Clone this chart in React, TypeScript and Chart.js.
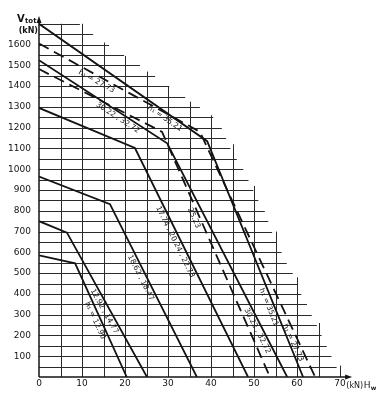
import React, { useEffect, useRef } from "react";
import { Chart, registerables } from "chart.js";

Chart.register(...registerables);

// ---- Series (H_w in kN, V_tot in kN) ----
const h1290_H = [0, 8.4, 20.4];
const h1290_V = [585, 547, 0];
const h1292_H = [0, 6.5, 25.1];
const h1292_V = [750, 695, 0];
const h1862_H = [0, 16.5, 36.7];
const h1862_V = [965, 832, 0];
const h1774_H = [0, 22.3, 48.6];
const h1774_V = [1295, 1102, 0];
const h2523_H = [0, 28.6, 53.7];
const h2523_V = [1482, 1180, 0];
const h3022_H = [0, 29.8, 57.7];
const h3022_V = [1525, 1125, 0];
const h3521_H = [0, 39.1, 61.4];
const h3521_V = [1700, 1135, 0];
const h2773_H = [0, 37.4, 64.2];
const h2773_V = [1605, 1180, 0];

const SERIES_H = [h1290_H, h1292_H, h1862_H, h1774_H, h2523_H, h3022_H, h3521_H, h2773_H];
const SERIES_V = [h1290_V, h1292_V, h1862_V, h1774_V, h2523_V, h3022_V, h3521_V, h2773_V];
const SERIES_NAMES = ["h1 = 12.90", "12.92, 14.77", "18.62, 18.47", "17.74, 20.24, 22.73", "25.23", "30.22, 32.72", "h1 = 35.21", "h1 = 27.73"];
const SERIES_DASHED = [false, false, false, false, true, false, false, true];

// ---- Tick labels ----
const X_TICKS = [0, 10, 20, 30, 40, 50, 60, 70];
const Y_TICKS = [100, 200, 300, 400, 500, 600, 700, 800, 900, 1000, 1100, 1200, 1300, 1400, 1500, 1600];

// ---- Staircase grid extents ----
const ROW_LEVELS = [1700, 1650, 1600, 1550, 1500, 1450, 1400, 1350, 1300, 1250, 1200, 1150, 1100, 1050, 1000, 950, 900, 850, 800, 750, 700, 650, 600, 550, 500, 450, 400, 350, 300, 250, 200, 150, 100, 50];
const ROW_ENDS = [9.5, 12.6, 16.3, 19.8, 23.5, 27, 30.3, 34, 37.4, 40.5, 42.5, 43.5, 44.5, 46, 47.5, 48.7, 49.8, 51, 52.5, 53.3, 54.2, 55.3, 56.4, 57.6, 59, 60, 61, 62.3, 63.4, 64.6, 65.7, 66.9, 68, 69.2];
const COL_LEVELS = [5, 10, 15, 20, 25, 30, 35, 40, 45, 50, 55, 60, 65, 70];
const COL_TOPS = [1700, 1700, 1610, 1545, 1470, 1400, 1325, 1260, 1120, 920, 700, 480, 260, 55];

// ---- Curve annotations: text, series index, H position along the curve ----
const LABEL_TEXT = ["h\u2081 = 27.73", "h\u2081 = 35.21", "30.22 , 32.72", "17.74 , 20.24 , 22.73", "25.23", "18.62 , 18.47", "12.92 , 14.77", "h\u2081 = 12.90", "30.22 , 32.72", "h\u2081 = 35.21", "h\u2081 = 27.73"];
const LABEL_SERIES = [7, 6, 5, 3, 4, 2, 1, 0, 5, 6, 7];
const LABEL_H = [14, 30, 19, 32.8, 37.2, 24.8, 16.3, 14.2, 51.9, 54.6, 60.2];

const INK = "#141414";
const FONT = "'DejaVu Sans', sans-serif";

const pts = (H: number[], V: number[]) => H.map((h, i) => ({ x: h, y: V[i] }));

const stairPlugin = {
  id: "stairGrid",
  beforeDatasetsDraw(chart: any) {
    const { ctx, scales } = chart;
    const x = scales.x;
    const y = scales.y;
    ctx.save();
    ctx.strokeStyle = "#2b2b2b";
    ctx.lineWidth = 1;
    const x0 = x.getPixelForValue(0);
    const y0 = y.getPixelForValue(0);
    ROW_LEVELS.forEach((v, i) => {
      const py = Math.round(y.getPixelForValue(v)) + 0.5;
      ctx.beginPath();
      ctx.moveTo(x0, py);
      ctx.lineTo(x.getPixelForValue(ROW_ENDS[i]), py);
      ctx.stroke();
    });
    COL_LEVELS.forEach((h, i) => {
      const px = Math.round(x.getPixelForValue(h)) + 0.5;
      ctx.beginPath();
      ctx.moveTo(px, y0);
      ctx.lineTo(px, y.getPixelForValue(COL_TOPS[i]));
      ctx.stroke();
    });
    // axes with arrows
    ctx.strokeStyle = INK;
    ctx.fillStyle = INK;
    ctx.lineWidth = 1.5;
    const yTop = y.getPixelForValue(1738);
    const xEnd = x.getPixelForValue(72.8);
    ctx.beginPath();
    ctx.moveTo(x0, y0);
    ctx.lineTo(x0, yTop + 4);
    ctx.moveTo(x0, y0);
    ctx.lineTo(xEnd - 4, y0);
    ctx.stroke();
    ctx.beginPath();
    ctx.moveTo(x0, yTop);
    ctx.lineTo(x0 - 2.5, yTop + 7);
    ctx.lineTo(x0 + 2.5, yTop + 7);
    ctx.closePath();
    ctx.fill();
    ctx.beginPath();
    ctx.moveTo(xEnd, y0);
    ctx.lineTo(xEnd - 7, y0 - 2.5);
    ctx.lineTo(xEnd - 7, y0 + 2.5);
    ctx.closePath();
    ctx.fill();
    ctx.restore();
  },
  afterDatasetsDraw(chart: any) {
    const { ctx, scales } = chart;
    const x = scales.x;
    const y = scales.y;
    ctx.save();
    ctx.fillStyle = INK;
    ctx.textAlign = "center";
    ctx.textBaseline = "middle";
    ctx.font = `7.5px ${FONT}`;
    LABEL_TEXT.forEach((t, i) => {
      const H = SERIES_H[LABEL_SERIES[i]];
      const V = SERIES_V[LABEL_SERIES[i]];
      const h = LABEL_H[i];
      let k = 0;
      while (k < H.length - 2 && h > H[k + 1]) k++;
      const f = (h - H[k]) / (H[k + 1] - H[k]);
      const v = V[k] + f * (V[k + 1] - V[k]);
      const ax = x.getPixelForValue(H[k]);
      const ay = y.getPixelForValue(V[k]);
      const bx = x.getPixelForValue(H[k + 1]);
      const by = y.getPixelForValue(V[k + 1]);
      const ang = Math.atan2(by - ay, bx - ax);
      ctx.save();
      ctx.translate(x.getPixelForValue(h), y.getPixelForValue(v));
      ctx.rotate(ang);
      ctx.fillText(t, 0, 5.5);
      ctx.restore();
    });
    // y axis title
    const x0 = x.getPixelForValue(0);
    const y17 = y.getPixelForValue(1700);
    ctx.textAlign = "left";
    ctx.textBaseline = "alphabetic";
    ctx.font = `bold 10px ${FONT}`;
    ctx.fillText("V", x0 - 22, y17 - 2);
    ctx.font = `bold 7px ${FONT}`;
    ctx.fillText("tot", x0 - 14, y17 - 1);
    ctx.font = `bold 8px ${FONT}`;
    ctx.textAlign = "right";
    ctx.fillText("(kN)", x0 - 1, y17 + 9);
    // x axis title after "70"
    const y0 = y.getPixelForValue(0);
    ctx.textAlign = "left";
    ctx.font = `9px ${FONT}`;
    const px70 = x.getPixelForValue(70);
    const w70 = ctx.measureText("70").width;
    const startX = px70 + w70 / 2 + 0.5;
    const base = y0 + 11;
    ctx.font = `8px ${FONT}`;
    ctx.fillText("(kN)", startX, base);
    const wk = ctx.measureText("(kN)").width;
    ctx.font = `9px ${FONT}`;
    ctx.fillText("H", startX + wk + 0.5, base);
    const wh = ctx.measureText("H").width;
    ctx.font = `bold 6px ${FONT}`;
    ctx.fillText("w", startX + wk + wh + 0.8, base + 2);
    ctx.restore();
  },
};

export default function App() {
  const ref = useRef<HTMLCanvasElement | null>(null);

  useEffect(() => {
    if (!ref.current) return;
    const datasets = SERIES_NAMES.map((name, i) => ({
      label: name,
      data: pts(SERIES_H[i], SERIES_V[i]),
      borderColor: INK,
      borderWidth: 1.8,
      pointRadius: 0,
      tension: 0,
      fill: false,
      borderDash: SERIES_DASHED[i] ? [11, 6] : [],
    }));
    const chart = new Chart(ref.current, {
      type: "line",
      data: { datasets },
      options: {
        animation: false,
        responsive: true,
        maintainAspectRatio: false,
        layout: { padding: { top: 6, right: 25, left: 0, bottom: 0 } },
        plugins: { legend: { display: false }, tooltip: { enabled: false } },
        scales: {
          x: {
            type: "linear",
            min: 0,
            max: 73,
            grid: { display: false, drawTicks: false },
            border: { display: false },
            afterFit: (s: any) => {
              s.height = 21;
            },
            afterBuildTicks: (s: any) => {
              s.ticks = X_TICKS.map((v) => ({ value: v }));
            },
            ticks: {
              autoSkip: false,
              maxRotation: 0,
              padding: 1,
              color: INK,
              font: { family: FONT, size: 9 },
              callback: (v: any) => String(v),
            },
          },
          y: {
            type: "linear",
            min: 0,
            max: 1750,
            grid: { display: false, drawTicks: false },
            border: { display: false },
            afterFit: (s: any) => {
              s.width = 39;
            },
            afterBuildTicks: (s: any) => {
              s.ticks = Y_TICKS.map((v) => ({ value: v }));
            },
            ticks: {
              autoSkip: false,
              padding: 8,
              color: INK,
              font: { family: FONT, size: 9 },
              callback: (v: any) => String(v),
            },
          },
        },
      },
      plugins: [stairPlugin],
    } as any);
    return () => chart.destroy();
  }, []);

  return (
    <div style={{ position: "fixed", left: 0, top: 0, width: 378, height: 398, background: "#fff" }}>
      <canvas ref={ref} />
    </div>
  );
}
